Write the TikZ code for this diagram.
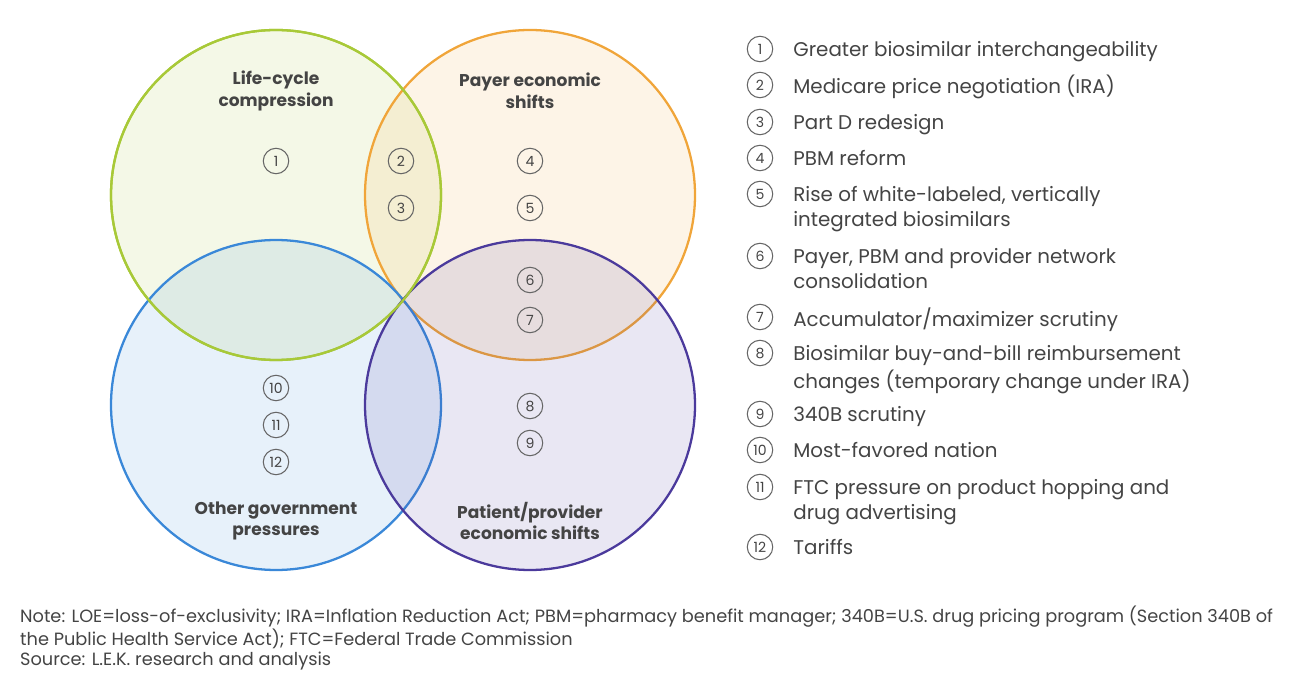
\documentclass[tikz,border=0pt]{standalone}
\usepackage{fontspec}
\setmainfont{Poppins}
\usepackage{tikz}
\usepackage{xcolor}
\definecolor{lcgreen}{HTML}{A8C938}
\definecolor{payorange}{HTML}{F0A53A}
\definecolor{govblue}{HTML}{3A88D8}
\definecolor{patpurple}{HTML}{4B3A9C}
\definecolor{txtgray}{HTML}{444444}
\definecolor{numgray}{HTML}{666666}
\tikzset{
  set/.style={draw, line width=1.3pt, fill opacity=0.12},
  num/.style={circle, draw=numgray, line width=0.6pt, minimum size=14.5pt, inner sep=0pt, text=txtgray, font=\fontsize{8}{9}\selectfont},
  title/.style={align=center, text=txtgray, font=\bfseries\fontsize{9.7}{12.4}\selectfont},
  item/.style={anchor=north west, align=left, inner sep=0pt, text=txtgray, font=\fontsize{11.3}{14.2}\selectfont},
  note/.style={anchor=west, text=txtgray, font=\fontsize{10.1}{12}\selectfont}
}
\begin{document}
\begin{tikzpicture}[x=0.02cm, y=-0.02cm]
    \useasboundingbox (0,0) rectangle (1300,678);
    % Sets
    \draw[set, draw=lcgreen, fill=lcgreen] (276,195) circle (165);
    \draw[set, draw=payorange, fill=payorange] (530,195) circle (165);
    \draw[set, draw=govblue, fill=govblue] (276,405) circle (165);
    \draw[set, draw=patpurple, fill=patpurple] (530,405) circle (165);
    \draw[draw=lcgreen, line width=1.3pt] (276,195) circle (165);

    % Set titles
    \node[title] (tlc) at (276,91) {Life-cycle\\compression};
    \node[title] (tpay) at (530,91) {Payer economic\\shifts};
    \node[title] (tgov) at (276,521) {Other government\\pressures};
    \node[title] (tpat) at (530,521) {Patient/provider\\economic shifts};

    % Numbers in the diagram
    \foreach \n/\x/\y in {1/276/161, 2/401/161, 3/401/208, 4/530/161, 5/530/208,
        6/530/280, 7/530/320, 8/530/406, 9/530/443, 10/276/388, 11/276/425, 12/276/462}
        \node[num] (v\n) at (\x,\y) {\n};

    % Legend
    \foreach \n/\y/\t in {1/49/{Greater biosimilar interchangeability},
        2/85/{Medicare price negotiation (IRA)},
        3/122/{Part D redesign},
        4/158/{PBM reform},
        5/194/{Rise of white-labeled, vertically\\integrated biosimilars},
        6/256/{Payer, PBM and provider network\\consolidation},
        7/317/{Accumulator/maximizer scrutiny},
        8/353/{Biosimilar buy-and-bill reimbursement\\changes (temporary change under IRA)},
        9/414/{340B scrutiny},
        10/450/{Most-favored nation},
        11/487/{FTC pressure on product hopping and\\drug advertising},
        12/547/{Tariffs}}
    {
        \node[num] (k\n) at (760,\y) {\n};
        \node[item] (l\n) at (793,\y-10) {\strut\t};
    }

    % Notes
    \node[note] (n1) at (14,617) {Note: LOE=loss-of-exclusivity; IRA=Inflation Reduction Act; PBM=pharmacy benefit manager; 340B=U.S. drug pricing program (Section 340B of};
    \node[note] (n2) at (14,639) {the Public Health Service Act); FTC=Federal Trade Commission};
    \node[note] (n3) at (14,661) {Source: L.E.K. research and analysis};
\end{tikzpicture}
\end{document}
